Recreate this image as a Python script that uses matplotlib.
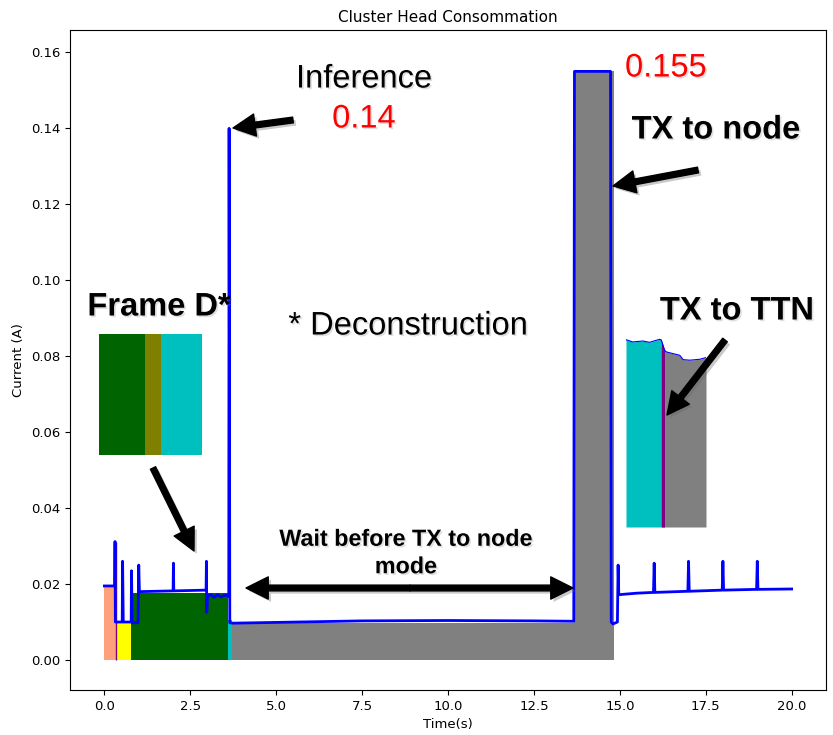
import matplotlib
matplotlib.use("Agg")
import matplotlib.pyplot as plt
from matplotlib.patches import FancyArrowPatch, ArrowStyle
from matplotlib import patheffects as pe

W, H, DPI = 833, 735, 100

INFERENCE_PEAK = 0.14
TX_NODE_PEAK = 0.155

# Measured current of the cluster head (time in s, current in A)
time_s = [0.00, 0.30, 0.31, 0.32, 0.52, 0.53, 0.55, 0.78, 0.79, 0.81,
          0.98, 1.00, 1.02, 1.50, 2.00, 2.01, 2.02, 2.96, 2.97, 2.98,
          3.00, 3.10, 3.20, 3.30, 3.40, 3.50, 3.62, 3.63, 3.65, 3.75,
          5.00, 7.50, 10.00, 12.50, 13.66, 13.68, 14.20, 14.73, 14.75,
          14.80, 14.93, 14.95, 14.97, 15.50, 15.98, 16.00, 16.02, 16.98,
          17.00, 17.02, 17.98, 18.00, 18.02, 18.98, 19.00, 19.02, 20.00]
current_a = [0.0195, 0.0195, 0.0312, 0.0100, 0.0100, 0.0260, 0.0100, 0.0100, 0.0235, 0.0098,
             0.0098, 0.0250, 0.0180, 0.0181, 0.0182, 0.0255, 0.0182, 0.0184, 0.0260, 0.0125,
             0.0168, 0.0172, 0.0165, 0.0172, 0.0166, 0.0171, 0.0168, INFERENCE_PEAK, 0.0098, 0.0097,
             0.0099, 0.0103, 0.0104, 0.0103, 0.0102, TX_NODE_PEAK, TX_NODE_PEAK, TX_NODE_PEAK, 0.0100,
             0.0095, 0.0100, 0.0250, 0.0172, 0.0176, 0.0178, 0.0255, 0.0178, 0.0181,
             0.0260, 0.0181, 0.0184, 0.0260, 0.0184, 0.0186, 0.0260, 0.0186, 0.0187]

# Coloured phases under the trace
phase_start = [0.00, 0.34, 0.78, 3.59, 3.70, 13.68]
phase_end = [0.34, 0.78, 3.59, 3.70, 13.68, 14.83]
phase_level = [0.0195, 0.0100, 0.0177, 0.0105, 0.0097, TX_NODE_PEAK]
phase_color = ["lightsalmon", "yellow", "darkgreen", "c", "gray", "gray"]

# Zoom of the frame deconstruction phases (fractions of the inset width)
frame_start = [0.000, 0.447, 0.602]
frame_end = [0.447, 0.602, 1.000]
frame_color = ["darkgreen", "olive", "c"]

# Zoom of the TX to TTN transition (relative time, relative current)
ttn_x = [0.000, 0.084, 0.210, 0.294, 0.420, 0.441, 0.483, 0.504, 0.588,
         0.672, 0.714, 0.798, 0.924, 1.000]
ttn_y = [0.996, 0.984, 0.989, 0.982, 0.998, 0.995, 0.940, 0.931, 0.922,
         0.913, 0.890, 0.887, 0.892, 0.901]
ttn_split = [0.441, 0.483]

xticks = [0.0, 2.5, 5.0, 7.5, 10.0, 12.5, 15.0, 17.5, 20.0]
yticks = [0.00, 0.02, 0.04, 0.06, 0.08, 0.10, 0.12, 0.14, 0.16]


def fp(px, py):
    """Pixel position (top-left origin) to figure fraction."""
    return px / W, 1 - py / H


fig = plt.figure(figsize=(W / DPI, H / DPI), dpi=DPI)
ax = fig.add_axes([70 / W, 45 / H, 756 / W, 660 / H])

for s, e, lvl, col in zip(phase_start, phase_end, phase_level, phase_color):
    ax.fill_between([s, e], 0, lvl, color=col, lw=0, zorder=1)
ax.vlines(0.34, 0, 0.031, color="purple", lw=1, zorder=2)
ax.plot(time_s, current_a, color="blue", lw=2.0, zorder=3)

ax.set_xlim(-1, 21)
ax.set_ylim(-0.0079, 0.1659)
ax.set_xticks(xticks)
ax.set_yticks(yticks)
ax.set_title("Cluster Head Consommation", fontsize=11)
ax.set_xlabel("Time(s)", fontsize=9.5)
ax.set_ylabel("Current (A)", fontsize=9.5)
ax.tick_params(labelsize=9.5)

# Inset: frame deconstruction
l, b = fp(99, 455)
r, t = fp(202, 334)
ins1 = fig.add_axes([l, b, r - l, t - b])
for s, e, col in zip(frame_start, frame_end, frame_color):
    ins1.fill_between([s, e], 0, 1, color=col, lw=0)
ins1.set_xlim(0, 1)
ins1.set_ylim(0, 1)
ins1.axis("off")

# Inset: TX to TTN
l, b = fp(626, 527)
r, t = fp(706, 338)
ins2 = fig.add_axes([l, b, r - l, t - b])
ins2.fill_between(ttn_x, 0, ttn_y, where=[x <= ttn_split[0] for x in ttn_x],
                  color="c", lw=0, interpolate=True)
ins2.fill_between(ttn_x, 0, ttn_y, where=[x >= ttn_split[1] for x in ttn_x],
                  color="gray", lw=0, interpolate=True)
ins2.fill_between(ttn_split, 0, [ttn_y[5], ttn_y[6]], color="purple", lw=0)
ins2.plot(ttn_x, ttn_y, color="blue", lw=0.8)
ins2.set_xlim(0, 1)
ins2.set_ylim(0, 1.005)
ins2.axis("off")

# Annotation text
shadow = [pe.withSimplePatchShadow(offset=(1.2, -1.2), shadow_rgbFace="0.5", alpha=0.25)]
ann_font = "Liberation Sans"


def label(px, py, txt, **kw):
    x, y = fp(px, py)
    kw.setdefault("fontsize", 23.5)
    kw.setdefault("color", "black")
    fig.text(x, y, txt, ha="center", va="center", family=ann_font,
             path_effects=shadow, **kw)


label(364, 79, "Inference")
label(364, 119, f"{INFERENCE_PEAK:g}", color="red")
label(666, 68, f"{TX_NODE_PEAK:g}", color="red")
label(716, 130, "TX to node", fontweight="bold")
label(159, 307, "Frame D*", fontweight="bold")
label(408, 326, "* Deconstruction")
label(737, 311, "TX to TTN", fontweight="bold")
label(406, 553, "Wait before TX to node\nmode", fontweight="bold",
      fontsize=16.8, linespacing=1.25)

# Arrows
arrow_style = ArrowStyle("simple", head_length=1.0, head_width=1.0, tail_width=0.26)
arrow_shadow = [pe.withSimplePatchShadow(offset=(2, -2), shadow_rgbFace="0.4", alpha=0.35)]


def arrow(tail, tip):
    a = FancyArrowPatch(fp(*tail), fp(*tip), transform=fig.transFigure,
                        arrowstyle=arrow_style, mutation_scale=16,
                        color="black", shrinkA=0, shrinkB=0,
                        path_effects=arrow_shadow)
    fig.add_artist(a)


arrow((293, 120), (233, 128))
arrow((698, 170), (613, 186))
arrow((153, 468), (194, 551))
arrow((725, 340), (667, 415))
arrow((410, 588), (246, 588))
arrow((410, 588), (573, 588))

fig.savefig("out.png", dpi=DPI)
